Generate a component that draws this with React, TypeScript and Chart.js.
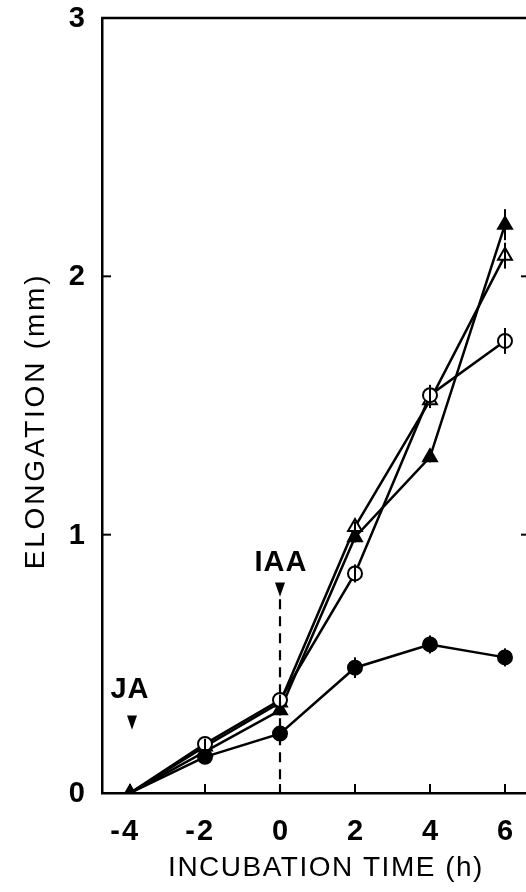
import React, { useEffect, useRef } from "react";
import { Chart, registerables } from "chart.js";

Chart.register(...registerables);

const times = [-4, -2, 0, 2, 4, 6];
const filledCircle = [0, 0.14, 0.23, 0.485, 0.575, 0.525];
const openCircle = [0, 0.19, 0.36, 0.85, 1.54, 1.75];
const openTriangle = [0, 0.18, 0.35, 1.03, 1.52, 2.08];
const filledTriangle = [0, 0.16, 0.32, 0.99, 1.3, 2.2];

const filledCircleErr = [0, 0.02, 0.02, 0.04, 0.035, 0.035];
const openCircleErr = [0, 0.02, 0.02, 0.035, 0.04, 0.05];
const openTriangleErr = [0, 0.02, 0.02, 0.02, 0.03, 0.05];
const filledTriangleErr = [0, 0.02, 0.02, 0.02, 0.02, 0.06];

const xTicks = [-4, -2, 0, 2, 4, 6];
const yTicks = [0, 1, 2, 3];

const xTitle = "INCUBATION TIME (h)";
const yTitle = "ELONGATION (mm)";
const jaLabel = "JA";
const iaaLabel = "IAA";
const jaTime = -4;
const iaaTime = 0;

const FONT = "'Liberation Sans', Arial, Helvetica, sans-serif";

const errs = [filledCircleErr, openCircleErr, openTriangleErr, filledTriangleErr];

const decorPlugin = {
  id: "decor",
  afterDatasetsDraw(chart: any) {
    const ctx = chart.ctx;
    const xs = chart.scales.x;
    const ys = chart.scales.y;
    const area = chart.chartArea;
    ctx.save();
    ctx.strokeStyle = "#000";
    ctx.fillStyle = "#000";

    // error bars
    ctx.lineWidth = 2;
    chart.data.datasets.forEach((ds: any, i: number) => {
      const e = errs[i];
      ds.data.forEach((p: any, j: number) => {
        if (!e[j]) return;
        const px = xs.getPixelForValue(p.x);
        ctx.beginPath();
        ctx.moveTo(px, ys.getPixelForValue(p.y - e[j]));
        ctx.lineTo(px, ys.getPixelForValue(p.y + e[j]));
        ctx.stroke();
      });
    });

    // frame top and right lines
    ctx.lineWidth = 2.5;
    ctx.beginPath();
    ctx.moveTo(area.left - 1, area.top);
    ctx.lineTo(chart.width, area.top);
    ctx.stroke();
    ctx.beginPath();
    ctx.moveTo(area.right, area.top);
    ctx.lineTo(area.right, area.bottom);
    ctx.stroke();

    // inward ticks
    ctx.lineWidth = 2;
    yTicks.forEach((v) => {
      if (v === 0 || v === 3) return;
      const py = ys.getPixelForValue(v);
      ctx.beginPath();
      ctx.moveTo(area.left, py);
      ctx.lineTo(area.left + 9, py);
      ctx.stroke();
      ctx.beginPath();
      ctx.moveTo(area.right, py);
      ctx.lineTo(area.right - 9, py);
      ctx.stroke();
    });
    xTicks.forEach((v) => {
      const px = xs.getPixelForValue(v);
      ctx.beginPath();
      ctx.moveTo(px, area.bottom);
      ctx.lineTo(px, area.bottom - 9);
      ctx.stroke();
    });

    // y tick labels
    ctx.font = `bold 29px ${FONT}`;
    ctx.textAlign = "right";
    ctx.textBaseline = "middle";
    yTicks.forEach((v) => {
      ctx.fillText(String(v), area.left - 17, ys.getPixelForValue(v) + 1);
    });

    // x tick labels: digit centred on tick, minus to its left
    xTicks.forEach((v) => {
      const px = xs.getPixelForValue(v);
      const digits = String(Math.abs(v));
      ctx.textAlign = "center";
      ctx.fillText(digits, px, area.bottom + 39);
      if (v < 0) {
        const w = ctx.measureText(digits).width;
        ctx.textAlign = "right";
        ctx.fillText("-", px - w / 2 - 2, area.bottom + 39);
      }
    });

    // axis titles
    ctx.font = `28px ${FONT}`;
    ctx.textAlign = "center";
    (ctx as any).letterSpacing = "1.5px";
    ctx.fillText(xTitle, 326, area.bottom + 75);
    ctx.save();
    ctx.translate(36, 421);
    ctx.rotate(-Math.PI / 2);
    (ctx as any).letterSpacing = "2.8px";
    ctx.fillText(yTitle, 0, 0);
    ctx.restore();
    (ctx as any).letterSpacing = "0px";

    // IAA dashed line, arrow and label
    const ix = xs.getPixelForValue(iaaTime);
    ctx.lineWidth = 2.2;
    ctx.setLineDash([10, 7]);
    ctx.beginPath();
    ctx.moveTo(ix, ys.getPixelForValue(0.75));
    ctx.lineTo(ix, area.bottom);
    ctx.stroke();
    ctx.setLineDash([]);
    const drawArrow = (x: number, yTop: number, yTip: number) => {
      ctx.beginPath();
      ctx.moveTo(x - 5, yTop);
      ctx.lineTo(x + 5, yTop);
      ctx.lineTo(x, yTip);
      ctx.closePath();
      ctx.fill();
    };
    drawArrow(ix, ys.getPixelForValue(0.815), ys.getPixelForValue(0.76));
    ctx.font = `bold 29px ${FONT}`;
    ctx.textAlign = "center";
    (ctx as any).letterSpacing = "1px";
    ctx.fillText(iaaLabel, ix + 1, ys.getPixelForValue(0.89));
    const jx = xs.getPixelForValue(jaTime);
    ctx.fillText(jaLabel, jx, ys.getPixelForValue(0.4));
    (ctx as any).letterSpacing = "0px";
    drawArrow(jx + 2, ys.getPixelForValue(0.3), ys.getPixelForValue(0.245));

    ctx.restore();
  },
};

const mk = (vals: number[]) => vals.map((v, i) => ({ x: times[i], y: v }));
const circleRadii = times.map((t) => (t === jaTime ? 0 : 7));
const openTriRadii = times.map((t) => (t === jaTime ? 0 : 8));

export default function App() {
  const ref = useRef<HTMLCanvasElement | null>(null);
  useEffect(() => {
    if (!ref.current) return;
    const common = {
      borderColor: "#000",
      borderWidth: 2.5,
      pointBorderColor: "#000",
      pointBorderWidth: 2,
      showLine: true,
      tension: 0,
    };
    const chart = new Chart(ref.current, {
      type: "scatter",
      data: {
        datasets: [
          { ...common, data: mk(filledCircle), pointStyle: "circle", pointRadius: circleRadii, pointBackgroundColor: "#000" },
          { ...common, data: mk(openCircle), pointStyle: "circle", pointRadius: circleRadii, pointBackgroundColor: "#fff" },
          { ...common, data: mk(openTriangle), pointStyle: "triangle", pointRadius: openTriRadii, pointBackgroundColor: "#fff" },
          { ...common, data: mk(filledTriangle), pointStyle: "triangle", pointRadius: 8, pointBackgroundColor: "#000" },
        ] as any,
      },
      options: {
        animation: false,
        responsive: false,
        devicePixelRatio: 1,
        layout: { padding: { top: 18, right: 10, left: 0, bottom: 0 } },
        plugins: { legend: { display: false }, tooltip: { enabled: false } },
        scales: {
          x: {
            type: "linear",
            min: -4.747,
            max: 6.667,
            grid: { display: false, drawTicks: false },
            border: { display: true, color: "#000", width: 2.5 },
            ticks: { display: false },
            afterFit: (s: any) => {
              s.height = 99;
            },
          },
          y: {
            min: 0,
            max: 3,
            grid: { display: false, drawTicks: false },
            border: { display: true, color: "#000", width: 2.5 },
            ticks: { display: false },
            afterFit: (s: any) => {
              s.width = 102;
            },
          },
        },
      } as any,
      plugins: [decorPlugin],
    });
    return () => chart.destroy();
  }, []);
  return (
    <div
      style={{
        position: "absolute",
        left: 0,
        top: 0,
        width: 526,
        height: 892,
        overflow: "hidden",
        background: "#fff",
      }}
    >
      <canvas ref={ref} width={540} height={892} style={{ width: 540, height: 892, display: "block" }} />
    </div>
  );
}
